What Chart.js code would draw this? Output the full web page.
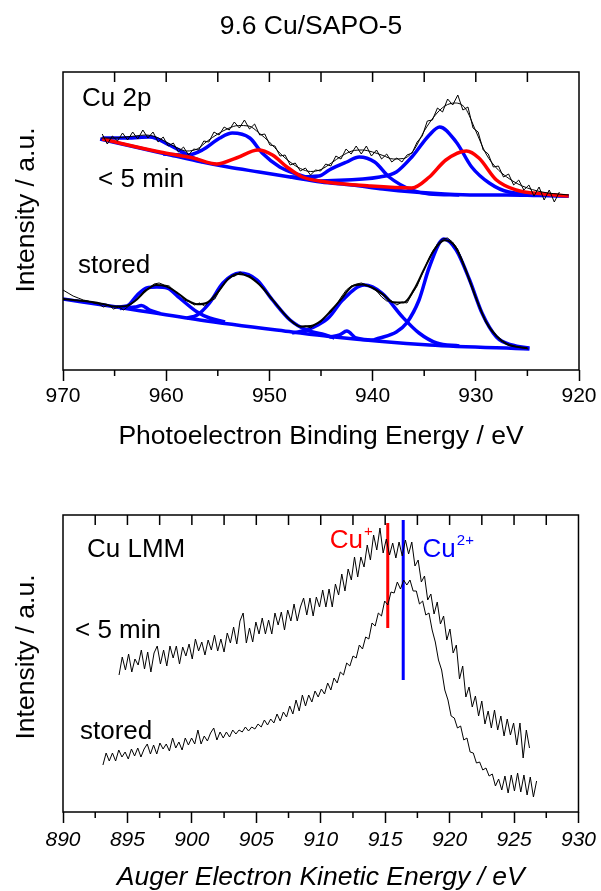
<!DOCTYPE html>
<html>
<head>
<meta charset="utf-8">
<title>9.6 Cu/SAPO-5</title>
<script src="https://cdn.jsdelivr.net/npm/chart.js@4.4.1/dist/chart.umd.min.js"></script>
<style>
  html, body { margin: 0; padding: 0; background: #fff; }
  #wrap { position: relative; width: 601px; height: 891px; overflow: hidden; }
  #title { position: absolute; left: 161px; top: 12px; width: 300px; text-align: center;
           font: 26.5px/26.5px "Liberation Sans", Arial, Helvetica, sans-serif; color: #000; }
  #xpsBox { position: absolute; left: 0; top: 0; width: 601px; height: 460px; }
  #augerBox { position: absolute; left: 0; top: 460px; width: 601px; height: 431px; }
</style>
</head>
<body>
<div id="wrap">
  <div id="xpsBox"><canvas id="xpsChart"></canvas></div>
  <div id="augerBox"><canvas id="augerChart"></canvas></div>
  <div id="title">9.6 Cu/SAPO-5</div>
</div>
<script>
// ---------- Cu 2p XPS (binding energy / eV, intensity in a.u.) ----------

// "< 5 min" measured spectrum, evenly spaced between these energies
const freshRawStart = 966.2, freshRawEnd = 921.9;
const freshRaw = [
  236, 226, 234, 229, 237, 230, 238, 231, 240, 232,
  238, 228, 233, 224, 227, 218, 223, 215, 221, 220,
  229, 228, 238, 235, 243, 240, 248, 242, 250, 241,
  246, 235, 236, 225, 224, 214, 215, 205, 207, 199,
  202, 195, 200, 199, 206, 204, 214, 211, 221, 216,
  224, 216, 224, 214, 220, 211, 216, 208, 212, 208,
  215, 217, 228, 234, 249, 250, 262, 258, 271, 265,
  275, 260, 263, 242, 238, 220, 216, 203, 204, 193,
  196, 185, 190, 180, 185, 174, 183, 170, 180, 168,
  178
];
// fitted envelope [E, I]
const freshEnvelope = [
  [966.3, 232], [965, 232], [964, 233], [963, 234], [962, 235], [961, 233], [960, 228],
  [959, 222.5], [958, 219], [957, 221], [956, 229], [955, 236], [954, 241.5], [953, 244.5],
  [952, 244], [951, 237], [950, 228], [949, 217], [948, 208], [947, 201.5], [946, 198.5],
  [945, 200.5], [944, 207], [943, 214], [942, 219], [941, 220], [940, 218], [939, 214.5],
  [938, 211], [937, 211.5], [936, 220], [935, 239], [934, 254], [933, 264], [932, 267],
  [931, 261.5], [930, 239], [929, 216], [928, 202], [927, 193], [926, 186.5], [925, 182],
  [924, 179], [923, 177], [922, 176], [921, 175]
];
const freshBaseline = [
  [966.4, 231], [963, 223], [960, 216], [957, 209], [954, 203], [951, 198], [948, 193],
  [945, 188], [942, 185], [939, 181], [936, 178], [933, 176], [930, 175], [927, 175],
  [924, 174.5], [921, 174]
];
// Cu+ component (red)
const freshCu1 = [
  [966.2, 231], [960.6, 218], [957.4, 212], [955.1, 206], [953.2, 212], [951.1, 220],
  [949.7, 215], [948.3, 203], [946.8, 193], [944.5, 188], [940.3, 184], [936.2, 182],
  [934.5, 193], [932.9, 210], [930.9, 219], [929.7, 212], [928.0, 190], [926.1, 180],
  [923.4, 176], [921.0, 174]
];
// Cu2+ components (blue)
const freshSat1 = [[966.2, 232], [963.8, 232], [961.6, 233], [959.7, 225], [957.9, 215], [956.5, 208]];
const freshCu2a = [
  [960.3, 216], [957.9, 215], [956.5, 220], [954.8, 232], [953.6, 237], [951.9, 232],
  [950.7, 217], [949.0, 203], [947.1, 195], [945.2, 189]
];
const freshSat2 = [
  [948.0, 193], [945.2, 194], [944.2, 200], [942.5, 208], [941.3, 213], [939.8, 208],
  [938.4, 193], [936.2, 180], [934.5, 176], [931.6, 175]
];
const freshCu2b = [
  [945.2, 189], [939.3, 193], [937.7, 198], [936.2, 213], [934.5, 235], [933.5, 243],
  [931.9, 228], [930.4, 203], [928.7, 187], [926.8, 178], [921.0, 174]
];

// "stored" measured spectrum
const storedRawStart = 970.0, storedRawEnd = 924.9;
const storedRaw = [
  80, 77, 74, 72, 70, 69, 67, 66, 63, 65,
  61, 63, 60, 64, 68, 73, 79, 82, 86, 87,
  85, 84, 79, 76, 70, 68, 65, 67, 64, 69,
  71, 80, 87, 93, 94, 98, 95, 94, 89, 85,
  80, 73, 67, 61, 55, 50, 46, 43, 44, 42,
  46, 48, 54, 58, 65, 73, 80, 84, 86, 87,
  85, 83, 79, 73, 69, 69, 65, 68, 67, 76,
  84, 96, 108, 118, 126, 131, 132, 128, 121, 109,
  95, 81, 67, 55, 44, 37, 32, 28, 25, 24,
  23, 22, 21
];
const storedEnvelope = [
  [970, 71], [969, 70], [968, 69], [967, 67.7], [966, 65.7], [965, 63.6], [964, 63.8],
  [963, 69.2], [962, 79], [961, 85], [960, 83.6], [959, 77.7], [958, 70], [957, 65.7],
  [956, 67.5], [955, 77.8], [954, 91], [953, 96], [952, 93.5], [951, 85.7], [950, 74],
  [949, 61.4], [948, 50.1], [947, 43.5], [946, 44], [945, 49.3], [944, 59.7], [943, 71.3],
  [942, 83.6], [941, 85.6], [940, 82], [939, 75.6], [938, 67.7], [937, 67.4], [936, 80.2],
  [935, 101], [934, 120.6], [933, 129.7], [932, 123.3], [931, 100.5], [930, 72.6],
  [929, 48], [928, 34], [927, 26], [926, 23.2], [925, 22]
];
const storedBaseline = [[970, 71], [964.8, 63], [956.75, 50], [947.8, 38], [944.2, 33.5], [934.5, 25], [924.8, 21]];
const storedSat1 = [
  [964.8, 63], [963.8, 64], [962.8, 75], [961.9, 82], [960.9, 83], [959.9, 82],
  [958.7, 72], [957.0, 58], [955.8, 52], [954.3, 48]
];
const storedSat1Small = [[964.5, 61.5], [963.0, 63], [962.4, 64.5], [961.6, 60], [960.6, 56.5]];
const storedCu2a = [
  [958.0, 52], [957.0, 55], [955.8, 67], [954.5, 87], [952.9, 97], [951.2, 90],
  [949.7, 70], [948.0, 50], [946.4, 40], [944.9, 36], [943.7, 32]
];
const storedSat2 = [
  [947.8, 37], [946.4, 40], [945.3, 45], [944.2, 53], [942.9, 70], [940.8, 85],
  [939.1, 77], [937.1, 53], [935.5, 37], [933.8, 27], [931.6, 24]
];
const storedSat2Small = [[944.2, 33], [943.2, 35], [942.5, 39], [941.6, 32], [940.0, 30]];
const storedCu2b = [
  [940.0, 30], [939.3, 32], [937.7, 38], [936.7, 47], [935.5, 70], [934.5, 103],
  [933.1, 131], [931.9, 120], [930.6, 90], [929.4, 57], [928.0, 33], [926.5, 25], [924.8, 22]
];

// ---------- Cu LMM Auger (kinetic energy / eV) ----------
const lmmFreshStart = 894.35, lmmFreshEnd = 926.2;
const lmmFresh = [
  125, 143, 130, 146, 128, 141, 135, 150, 131, 148,
  128, 147, 154, 136, 150, 134, 154, 142, 154, 136,
  153, 144, 156, 141, 161, 149, 158, 145, 160, 150,
  165, 149, 161, 148, 167, 157, 173, 156, 179, 187,
  157, 172, 158, 178, 166, 182, 166, 180, 166, 187,
  175, 188, 170, 190, 179, 196, 179, 193, 202, 185,
  202, 184, 203, 193, 210, 193, 211, 193, 216, 205,
  226, 209, 231, 220, 243, 223, 243, 233, 255, 240,
  265, 250, 272, 247, 261, 245, 257, 242, 258, 244,
  260, 246, 258, 234, 240, 218, 224, 200, 206, 186,
  198, 176, 184, 160, 171, 147, 155, 121, 134, 103,
  113, 93, 104, 84, 99, 76, 89, 72, 90, 70,
  84, 64, 81, 65, 77, 55, 77, 42, 70, 52
];
const lmmStoredStart = 893.1, lmmStoredEnd = 926.75;
const lmmStored = [
  35, 47, 39, 47, 39, 50, 43, 48, 41, 51,
  44, 52, 43, 51, 56, 46, 55, 46, 57, 51,
  56, 49, 62, 52, 58, 50, 62, 55, 62, 56,
  70, 56, 64, 59, 67, 72, 60, 68, 62, 68,
  63, 70, 66, 70, 68, 73, 69, 73, 71, 76,
  73, 80, 75, 81, 77, 86, 79, 88, 83, 94,
  86, 100, 89, 105, 94, 105, 98, 109, 103, 111,
  106, 117, 110, 122, 117, 128, 125, 137, 134, 144,
  142, 155, 151, 163, 161, 177, 174, 187, 184, 199,
  195, 208, 207, 218, 211, 220, 215, 220, 209, 209,
  196, 199, 185, 187, 170, 158, 140, 130, 110, 100,
  84, 82, 72, 74, 60, 62, 48, 47, 37, 38,
  30, 32, 24, 26, 14, 21, 10, 24, 7, 25,
  9, 27, 8, 25, 5, 23, 3, 19
];
// reference positions of Cu+ and Cu2+
const cu1Marker = [[915.2, 172], [915.2, 277]];
const cu2Marker = [[916.4, 120], [916.4, 280]];

// ---------- helpers ----------
const BLUE = '#0000ff', RED = '#ff0000', BLACK = '#000';
const FONT = '"Liberation Sans", Arial, Helvetica, sans-serif';
Chart.defaults.font.family = FONT;
Chart.defaults.color = BLACK;

const pts = pairs => pairs.map(([x, y]) => ({ x, y }));
const spread = (vals, a, b) => vals.map((y, i) => ({ x: a + (b - a) * i / (vals.length - 1), y }));

function fitLine(pairs, color, width, order) {
  return { data: pts(pairs), borderColor: color, borderWidth: width, pointRadius: 0,
           cubicInterpolationMode: 'monotone', fill: false, order };
}
function rawLine(data) {
  return { data, borderColor: BLACK, borderWidth: 1, pointRadius: 0, tension: 0, fill: false, order: 0 };
}

// frame, minor ticks, top ticks, y title and in-plot labels
function decor(cfg) {
  return {
    id: 'decor',
    afterDraw(chart) {
      const { ctx, chartArea: a, scales: { x, y } } = chart;
      ctx.save();
      ctx.strokeStyle = BLACK;
      ctx.lineWidth = 1.5;
      ctx.beginPath();
      for (let v = x.min + cfg.minor; v < x.max - 1e-6; v += cfg.minor) {
        const px = x.getPixelForValue(v);
        ctx.moveTo(px, a.top);
        ctx.lineTo(px, a.top + 10);
        if (Math.abs(v / cfg.major - Math.round(v / cfg.major)) > 1e-6) {
          ctx.moveTo(px, a.bottom);
          ctx.lineTo(px, a.bottom + 6);
        }
      }
      ctx.stroke();
      ctx.strokeRect(a.left, a.top, a.right - a.left, a.bottom - a.top);

      ctx.fillStyle = BLACK;
      ctx.font = `26.5px ${FONT}`;
      ctx.textAlign = 'center';
      ctx.textBaseline = 'middle';
      ctx.save();
      ctx.translate(cfg.yTitleX, cfg.yTitleY);
      ctx.rotate(-Math.PI / 2);
      ctx.fillText('Intensity / a.u.', 0, 0);
      ctx.restore();

      ctx.textAlign = 'left';
      ctx.textBaseline = 'alphabetic';
      cfg.labels.forEach(l => {
        const px = x.getPixelForValue(l.x), py = y.getPixelForValue(l.y);
        ctx.fillStyle = l.color || BLACK;
        ctx.font = `26px ${FONT}`;
        ctx.fillText(l.text, px, py);
        if (l.sup) {
          const w = ctx.measureText(l.text).width;
          ctx.font = `15px ${FONT}`;
          ctx.fillText(l.sup, px + w + 1, py - 12);
        }
      });
      ctx.restore();
    }
  };
}

function axisX(min, max, step, reverse, title, italic, tickPad, height) {
  const style = italic ? 'italic' : 'normal';
  return {
    type: 'linear', min, max, reverse,
    ticks: { stepSize: step, font: { size: 21, style }, padding: tickPad, maxRotation: 0 },
    grid: { display: true, drawOnChartArea: false, drawTicks: true, tickLength: 11,
            tickColor: BLACK, tickWidth: 1.5 },
    border: { display: false },
    title: { display: true, text: title, font: { size: 26.5, style, lineHeight: 1 }, padding: 0 },
    afterFit: s => { s.height = height; }
  };
}
function axisY(min, max) {
  return {
    type: 'linear', min, max,
    ticks: { display: false }, grid: { display: false }, border: { display: false },
    afterFit: s => { s.width = 63; }
  };
}
const baseOptions = {
  responsive: true, maintainAspectRatio: false, animation: false, devicePixelRatio: 1
};

// ---------- Cu 2p panel ----------
new Chart(document.getElementById('xpsChart'), {
  type: 'line',
  data: {
    datasets: [
      fitLine(freshBaseline, BLUE, 3.5, 3),
      fitLine(freshSat1, BLUE, 3.5, 3),
      fitLine(freshCu2a, BLUE, 3.5, 3),
      fitLine(freshSat2, BLUE, 3.5, 3),
      fitLine(freshCu2b, BLUE, 3.5, 3),
      fitLine(freshCu1, RED, 3.5, 2),
      fitLine(freshEnvelope, BLACK, 1, 1),
      rawLine(spread(freshRaw, freshRawStart, freshRawEnd)),
      fitLine(storedBaseline, BLUE, 3.5, 3),
      fitLine(storedSat1, BLUE, 3.5, 3),
      fitLine(storedSat1Small, BLUE, 3.5, 3),
      fitLine(storedCu2a, BLUE, 3.5, 3),
      fitLine(storedSat2, BLUE, 3.5, 3),
      fitLine(storedSat2Small, BLUE, 3.5, 3),
      fitLine(storedCu2b, BLUE, 3.5, 3),
      fitLine(storedEnvelope, BLACK, 2, 1),
      rawLine(spread(storedRaw, storedRawStart, storedRawEnd))
    ]
  },
  options: {
    ...baseOptions,
    layout: { padding: { left: 0, right: 22, top: 72, bottom: 10 } },
    plugins: { legend: { display: false }, tooltip: { enabled: false } },
    scales: {
      x: axisX(920, 970, 10, true, 'Photoelectron Binding Energy / eV', false, 3, 80),
      y: axisY(0, 298)
    }
  },
  plugins: [decor({
    minor: 5, major: 10, yTitleX: 27, yTitleY: 210,
    labels: [
      { text: 'Cu 2p', x: 968.16, y: 264 },
      { text: '< 5 min', x: 966.6, y: 183 },
      { text: 'stored', x: 968.55, y: 97 }
    ]
  })]
});

// ---------- Cu LMM panel ----------
new Chart(document.getElementById('augerChart'), {
  type: 'line',
  data: {
    datasets: [
      rawLine(spread(lmmFresh, lmmFreshStart, lmmFreshEnd)),
      rawLine(spread(lmmStored, lmmStoredStart, lmmStoredEnd)),
      { data: pts(cu1Marker), borderColor: RED, borderWidth: 3, pointRadius: 0, order: 1 },
      { data: pts(cu2Marker), borderColor: BLUE, borderWidth: 3, pointRadius: 0, order: 1 }
    ]
  },
  options: {
    ...baseOptions,
    layout: { padding: { left: 0, right: 22, top: 55, bottom: 0 } },
    plugins: { legend: { display: false }, tooltip: { enabled: false } },
    scales: {
      x: axisX(890, 930, 5, false, 'Auger Electron Kinetic Energy / eV', true, 5, 79),
      y: axisY(-12, 285)
    }
  },
  plugins: [decor({
    minor: 2.5, major: 5, yTitleX: 27, yTitleY: 197,
    labels: [
      { text: 'Cu LMM', x: 891.86, y: 243 },
      { text: '< 5 min', x: 890.93, y: 162 },
      { text: 'stored', x: 891.32, y: 61 },
      { text: 'Cu', sup: '+', x: 910.7, y: 252, color: RED },
      { text: 'Cu', sup: '2+', x: 917.9, y: 243, color: BLUE }
    ]
  })]
});
</script>
</body>
</html>
